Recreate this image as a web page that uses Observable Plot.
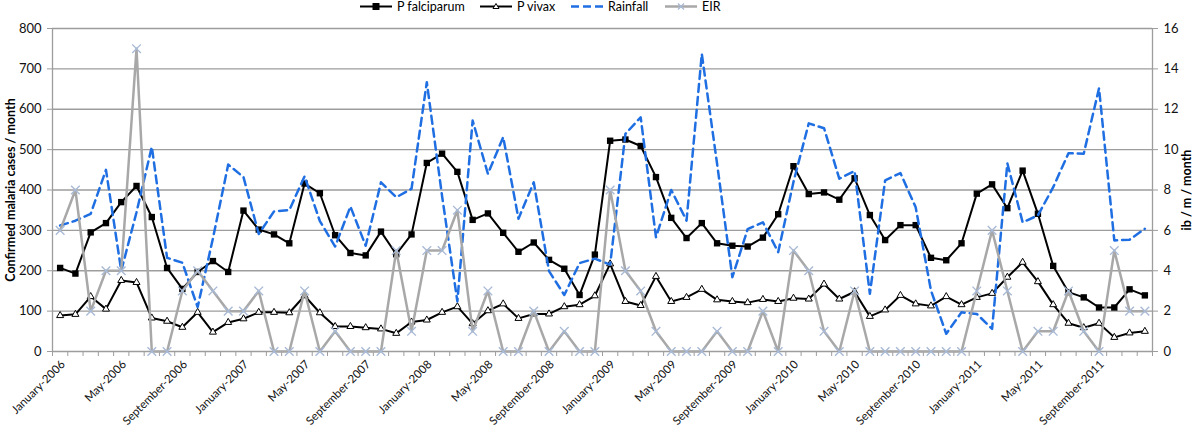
<!DOCTYPE html>
<html><head><meta charset="utf-8">
<script src="https://cdn.jsdelivr.net/npm/d3@7"></script>
<script src="https://cdn.jsdelivr.net/npm/@observablehq/plot@0.6"></script>
<style>
body{margin:0;background:#fff;font-family:Lato,"Liberation Sans",sans-serif;}
#wrap{position:relative;width:1200px;height:428px;}
.leg{position:absolute;top:0;height:13px;display:flex;align-items:center;font-size:12.5px;color:#000;white-space:nowrap;}
.leg svg{margin-right:5px;display:block}
.ttl{position:absolute;font-weight:bold;font-size:12.5px;color:#000;white-space:nowrap;transform:translate(-50%,-50%) rotate(-90deg);}
</style></head><body><div id="wrap"></div>
<script>
// Monthly values, January 2006 .. December 2011
const falciparum = [207,193,295,318,370,410,333,207,155,197,224,197,
  349,302,290,268,416,392,288,244,238,297,241,290,
  467,490,445,326,342,294,247,270,227,205,140,240,
  522,525,509,432,331,281,318,268,262,260,282,340,
  459,390,394,376,429,338,276,313,313,232,226,268,
  391,414,355,448,341,212,147,134,109,109,154,139];
const vivax = [89,92,136,105,176,171,83,75,60,97,48,72,
  81,97,97,96,138,96,62,62,59,56,45,73,
  78,97,111,69,101,118,82,93,93,111,116,138,
  217,124,114,186,124,134,154,128,124,121,129,124,
  132,130,167,130,148,87,103,139,118,113,136,116,
  134,144,184,221,173,116,70,59,70,35,46,50];
const rainfall = [312,324,341,450,200,345,507,232,220,110,280,463,
  432,291,347,350,434,323,260,359,262,419,382,403,
  667,385,124,572,440,531,329,419,199,140,219,230,
  215,539,580,283,400,324,737,465,184,303,320,246,
  420,565,553,428,447,143,424,442,357,151,44,97,
  93,56,466,320,337,407,491,490,652,275,277,304];
const eir = [6,8,2,4,4,15,0,0,3,4,3,2,
  2,3,0,0,3,0,1,0,0,0,5,1,
  5,5,7,1,3,0,0,2,0,1,0,0,
  8,4,3,1,0,0,0,1,0,0,2,0,
  5,4,1,0,3,0,0,0,0,0,0,0,
  3,6,3,0,1,1,3,1,0,5,2,2];
const xLabels = ["January-2006","May-2006","September-2006","January-2007","May-2007","September-2007",
  "January-2008","May-2008","September-2008","January-2009","May-2009","September-2009",
  "January-2010","May-2010","September-2010","January-2011","May-2011","September-2011"];
const leftTicks = [0,100,200,300,400,500,600,700,800];
const rightTicks = [0,2,4,6,8,10,12,14,16];
const leftMax = 800, rightMax = 16;
const k = leftMax / rightMax;
const leftTitle = "Confirmed malaria cases / month";
const rightTitle = "ib / m / month";

const data = falciparum.map((v, i) => ({i, fal: v, viv: vivax[i], rain: rainfall[i], eirL: eir[i] * k}));
const labelIdx = xLabels.map((_, j) => j * 4);
const bounds = d3.range(falciparum.length + 1).map(b => b - 0.5);

const W = 1200, H = 428, mL = 52, mR = 48, mT = 28, mB = 77;
const grid = "#9d9d9d";
const chart = Plot.plot({
  width: W, height: H,
  marginLeft: mL, marginRight: mR, marginTop: mT, marginBottom: mB,
  style: {fontFamily: "Lato, 'Liberation Sans', sans-serif", background: "#fff", color: "#000"},
  x: {type: "linear", domain: [-0.5, falciparum.length - 0.5]},
  y: {domain: [0, leftMax]},
  marks: [
    Plot.gridY(leftTicks, {stroke: grid, strokeOpacity: 1, strokeWidth: 1.3}),
    Plot.ruleX([bounds[0], bounds[bounds.length - 1]], {stroke: grid, strokeWidth: 1.3}),
    Plot.axisY(leftTicks, {anchor: "left", tickSize: 5, tickPadding: 6, fontSize: 13, stroke: grid, fill: "#111", label: null}),
    Plot.axisY(rightTicks.map(t => t * k), {anchor: "right", tickSize: 5, tickPadding: 6, fontSize: 13, stroke: grid, fill: "#111", label: null, tickFormat: d => d / k}),
    Plot.axisX(bounds, {tickSize: 5, tickFormat: () => "", stroke: grid, label: null}),
    Plot.axisX(labelIdx, {tickSize: 0, tickRotate: -45, tickPadding: 11, dx: 3, fontSize: 11.5, fill: "#111", label: null,
      tickFormat: i => xLabels[i / 4]}),
    Plot.line(data, {x: "i", y: "fal", stroke: "#000", strokeWidth: 2}),
    Plot.dot(data, {x: "i", y: "fal", symbol: "square", r: 3.6, fill: "#000", stroke: "none"}),
    Plot.line(data, {x: "i", y: "viv", stroke: "#000", strokeWidth: 2}),
    Plot.dot(data, {x: "i", y: "viv", symbol: "triangle", r: 2.6, fill: "#fff", stroke: "#000", strokeWidth: 1}),
    Plot.line(data, {x: "i", y: "rain", stroke: "#1f6fe3", strokeWidth: 2.5, strokeDasharray: "8,5"}),
    Plot.line(data, {x: "i", y: "eirL", stroke: "#a8a8a8", strokeWidth: 2.5}),
    Plot.dot(data, {x: "i", y: "eirL", symbol: "times", r: 4, stroke: "#a9bad6", strokeWidth: 1.4})
  ]
});
const wrap = document.getElementById("wrap");
wrap.appendChild(chart);

const midY = mT + (H - mT - mB) / 2;
for (const [txt, cx] of [[leftTitle, 10], [rightTitle, 1186]]) {
  const t = document.createElement("div");
  t.className = "ttl";
  t.style.left = cx + "px";
  t.style.top = midY + "px";
  t.textContent = txt;
  wrap.appendChild(t);
}

const legendItems = [
  {name: "P falciparum", left: 360, svg: '<line x1="0" y1="6.5" x2="32" y2="6.5" stroke="#000" stroke-width="2"/><rect x="12.5" y="3" width="7" height="7" fill="#000"/>'},
  {name: "P vivax", left: 480, svg: '<line x1="0" y1="6.5" x2="32" y2="6.5" stroke="#000" stroke-width="2"/><path d="M16,3.5 L19,8.5 L13,8.5 Z" fill="#fff" stroke="#000" stroke-width="1"/>'},
  {name: "Rainfall", left: 571, svg: '<line x1="0" y1="6.5" x2="32" y2="6.5" stroke="#1f6fe3" stroke-width="2.5" stroke-dasharray="8,4"/>'},
  {name: "EIR", left: 665, svg: '<line x1="0" y1="6.5" x2="32" y2="6.5" stroke="#a8a8a8" stroke-width="2.5"/><path d="M13,3.5 L19,9.5 M19,3.5 L13,9.5" stroke="#a9bad6" stroke-width="1.4"/>'}
];
for (const it of legendItems) {
  const d = document.createElement("div");
  d.className = "leg";
  d.style.left = it.left + "px";
  d.innerHTML = `<svg width="32" height="13">${it.svg}</svg><span>${it.name}</span>`;
  wrap.appendChild(d);
}
</script></body></html>
